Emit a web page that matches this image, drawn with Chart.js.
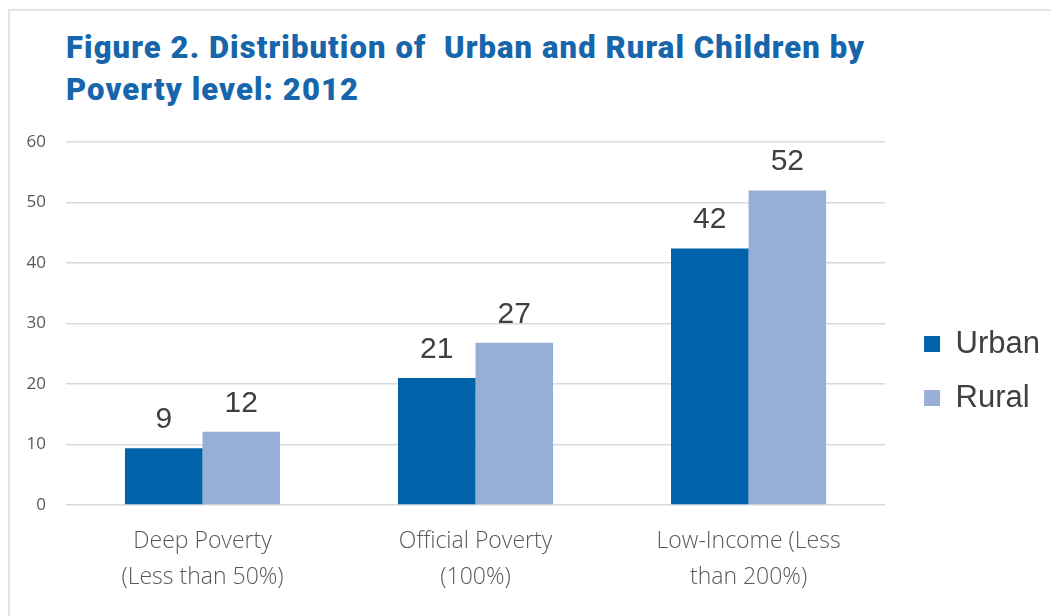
<!DOCTYPE html>
<html lang="en">
<head>
<meta charset="UTF-8">
<title>Urban and Rural Children by Poverty level</title>
<script src="https://cdn.jsdelivr.net/npm/chart.js"></script>
<style>
  html, body { margin: 0; padding: 0; background: #fff; overflow: hidden; width: 1051px; height: 616px; }
  #frame { position: absolute; left: 8px; top: 9px; width: 1100px; height: 700px;
           border-top: 2px solid #e4e4e4; border-left: 2px solid #e4e4e4; }
  #title { position: absolute; left: 66px; top: 27px; margin: 0;
           font-family: Roboto, sans-serif; font-weight: 900; font-size: 31px; line-height: 42px;
           letter-spacing: 1.1px; color: #1765aa; white-space: pre; }
  #wrap { position: absolute; left: 10px; top: 125px; width: 1040px; height: 491px; }
</style>
</head>
<body>
<div id="frame"></div>
<h1 id="title">Figure 2. Distribution of  Urban and Rural Children by
Poverty level: 2012</h1>
<div id="wrap"><canvas id="chart" width="1040" height="491"></canvas></div>

<script>
var categories = [['Deep Poverty', '(Less than 50%)'], ['Official Poverty', '(100%)'], ['Low-Income (Less', 'than 200%)']];
var urban = [9.4, 21.0, 42.4];
var rural = [12.1, 26.8, 52.0];
var yTicks = [0, 10, 20, 30, 40, 50, 60];

// values written above each bar
var barLabels = {
    id: 'barLabels',
    afterDatasetsDraw: function (chart) {
        var ctx = chart.ctx;
        ctx.save();
        ctx.font = '30px "Liberation Sans", Arial, sans-serif';
        ctx.fillStyle = '#404040';
        ctx.textAlign = 'center';
        ctx.textBaseline = 'alphabetic';
        chart.data.datasets.forEach(function (ds, i) {
            chart.getDatasetMeta(i).data.forEach(function (bar, j) {
                ctx.fillText(Math.round(ds.data[j]), bar.x, bar.y - 20);
            });
        });
        ctx.restore();
    }
};

var ctx = document.getElementById('chart').getContext('2d');
var chart = new Chart(ctx, {
    type: 'bar',
    data: {
        labels: categories,
        datasets: [
            { label: 'Urban', data: urban, backgroundColor: '#0062a8' },
            { label: 'Rural', data: rural, backgroundColor: '#97afd7' }
        ]
    },
    options: {
        responsive: false,
        animation: false,
        categoryPercentage: 0.568,
        barPercentage: 1,
        layout: { padding: { top: 1, left: 0, right: 0, bottom: 0 } },
        plugins: {
            title: { display: false },
            tooltip: { enabled: false },
            legend: {
                position: 'right',
                labels: {
                    boxWidth: 16,
                    boxHeight: 16,
                    padding: 23,
                    color: '#404040',
                    font: { family: '"Liberation Sans", Arial, sans-serif', size: 31 }
                }
            }
        },
        scales: {
            x: {
                grid: { display: false },
                border: { display: false },
                ticks: {
                    color: '#595959',
                    padding: 11,
                    maxRotation: 0,
                    font: { family: '"Open Sans", sans-serif', size: 23, weight: 300, lineHeight: 1.55 }
                },
                afterFit: function (s) { s.height = 111; }
            },
            y: {
                min: 0,
                max: 60,
                afterBuildTicks: function (s) { s.ticks = yTicks.map(function (v) { return { value: v }; }); },
                grid: { color: '#d9d9d9', lineWidth: 1.5, drawTicks: false },
                border: { display: false },
                ticks: {
                    color: '#595959',
                    padding: 20,
                    font: { family: '"Open Sans", sans-serif', size: 17 }
                },
                afterFit: function (s) {
                    s.width = 56;
                    s.paddingTop = 17;
                    s.paddingBottom = 0;
                }
            },
            gap: {
                position: 'right',
                display: true,
                grid: { display: false },
                border: { display: false },
                ticks: { display: false },
                afterFit: function (s) { s.width = 16; }
            }
        }
    },
    plugins: [barLabels]
});
</script>
</body>
</html>
